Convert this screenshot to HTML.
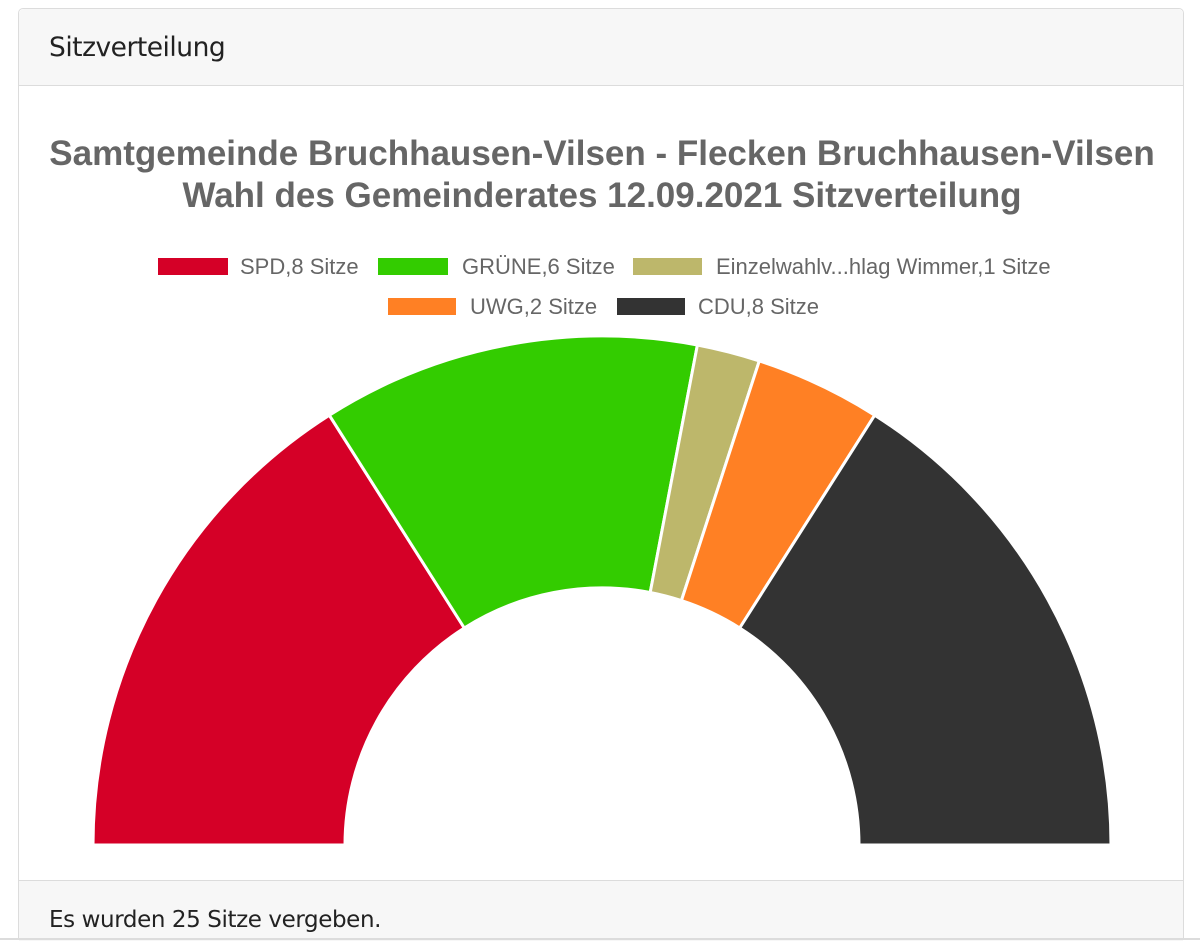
<!DOCTYPE html>
<html><head><meta charset="utf-8"><style>
html,body{margin:0;padding:0;background:#fff;width:1200px;height:948px;overflow:hidden;}
.card{position:absolute;left:18px;top:8px;width:1166px;height:931px;border:1px solid #dcdcdc;border-bottom:none;border-radius:5px 5px 0 0;box-sizing:border-box;}
.hdr{position:absolute;left:0;top:0;right:0;height:76px;background:#f7f7f7;border-bottom:1px solid #dcdcdc;border-radius:5px 5px 0 0;}
.hdr span{position:absolute;left:30px;top:23px;font:26.5px "DejaVu Sans","Liberation Sans",sans-serif;letter-spacing:-0.5px;color:#222;}
.ftr{position:absolute;left:0;top:871px;right:0;height:60px;background:#f7f7f7;border-top:1px solid #dcdcdc;}
.ftr span{position:absolute;left:30px;top:26px;font:23px "DejaVu Sans","Liberation Sans",sans-serif;letter-spacing:-0.4px;color:#222;}
.bl{position:absolute;left:0;top:938px;width:1200px;height:2px;background:#dcdcdc;}
svg{position:absolute;left:0;top:0;}
</style></head><body>
<div class="card"><div class="hdr"><span>Sitzverteilung</span></div>
<div class="ftr"><span>Es wurden 25 Sitze vergeben.</span></div></div>
<div class="bl"></div>
<svg width="1200" height="948" xmlns="http://www.w3.org/2000/svg" font-family="Liberation Sans, sans-serif">
<text x="602" y="165" text-anchor="middle" font-size="35" font-weight="bold" fill="#666">Samtgemeinde Bruchhausen-Vilsen - Flecken Bruchhausen-Vilsen</text>
<text x="602" y="207" text-anchor="middle" font-size="35" font-weight="bold" fill="#666">Wahl des Gemeinderates 12.09.2021 Sitzverteilung</text>
<g font-size="22" fill="#666">
<rect x="158" y="258" width="70" height="17" fill="#d50027"/><text x="240" y="274">SPD,8 Sitze</text>
<rect x="378" y="258" width="70" height="17" fill="#33cc00"/><text x="462" y="274">GRÜNE,6 Sitze</text>
<rect x="633" y="258" width="69" height="17" fill="#bdb76b"/><text x="716" y="274">Einzelwahlv...hlag Wimmer,1 Sitze</text>
<rect x="388" y="298" width="68" height="17" fill="#ff8024"/><text x="470" y="314">UWG,2 Sitze</text>
<rect x="617" y="298" width="68" height="17" fill="#333333"/><text x="698" y="314">CDU,8 Sitze</text>
</g>
<g stroke="#fff" stroke-width="3" stroke-linejoin="round">
<path d="M93,845 A509,509 0 0 1 329.3,415.2 L464.3,628.0 A257,257 0 0 0 345,845 Z" fill="#d50027"/>
<path d="M329.3,415.2 A509,509 0 0 1 697.4,345.0 L650.2,592.5 A257,257 0 0 0 464.3,628.0 Z" fill="#33cc00"/>
<path d="M697.4,345.0 A509,509 0 0 1 759.3,360.9 L681.4,600.6 A257,257 0 0 0 650.2,592.5 Z" fill="#bdb76b"/>
<path d="M759.3,360.9 A509,509 0 0 1 874.7,415.2 L739.7,628.0 A257,257 0 0 0 681.4,600.6 Z" fill="#ff8024"/>
<path d="M874.7,415.2 A509,509 0 0 1 1111,845 L859,845 A257,257 0 0 0 739.7,628.0 Z" fill="#333333"/>
</g>
</svg>
</body></html>
